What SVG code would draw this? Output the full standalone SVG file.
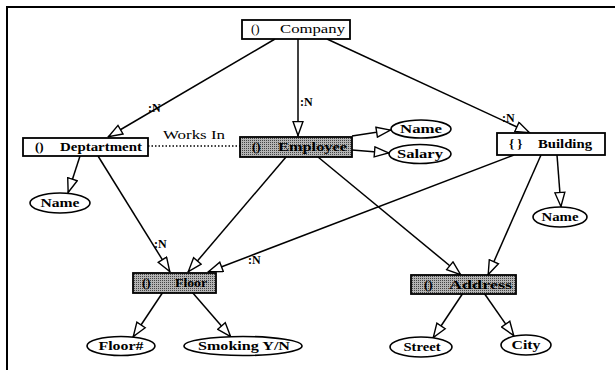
<svg xmlns="http://www.w3.org/2000/svg" width="615" height="370" viewBox="0 0 615 370">
<style>
.box{fill:#fff;stroke:#000;stroke-width:1.8}
.shade{fill:url(#dots);stroke:#000;stroke-width:1.8}
.ell{fill:#fff;stroke:#000;stroke-width:1.6}
.t{font-family:"Liberation Serif","Times New Roman",serif;font-size:13px;font-weight:bold;fill:#000}
.tn{font-family:"Liberation Serif","Times New Roman",serif;font-size:13px;fill:#000}
.tc{text-anchor:middle}
.ln{stroke:#000;stroke-width:1.5;fill:none;marker-end:url(#ah)}
.dot{stroke:#000;stroke-width:1.3;stroke-dasharray:1.5 2;fill:none}
.lab{font-family:"Liberation Serif","Times New Roman",serif;font-size:12px;font-weight:bold;fill:#000}
</style>
<defs>
<pattern id="dots" width="2" height="2" patternUnits="userSpaceOnUse">
<rect width="2" height="2" fill="#b4b4b4"/>
<rect width="1" height="1" fill="#444"/>
</pattern>
<marker id="ah" viewBox="0 0 16 12" refX="15.5" refY="6" markerWidth="16" markerHeight="12" markerUnits="userSpaceOnUse" orient="auto">
<path d="M1,1 L15,6 L1,11 z" fill="#fff" stroke="#000" stroke-width="1.4"/>
</marker>
</defs>
<path d="M7,370 V7 H615" fill="none" stroke="#000" stroke-width="2"/>
<g id="connectors">
<line class="ln" x1="275" y1="39" x2="108" y2="137"/>
<line class="ln" x1="298" y1="39" x2="298" y2="136"/>
<line class="ln" x1="327" y1="39" x2="530" y2="133"/>
<line class="dot" x1="148" y1="146" x2="240" y2="146"/>
<line class="ln" x1="352" y1="136" x2="391" y2="130"/>
<line class="ln" x1="352" y1="150" x2="389" y2="153"/>
<line class="ln" x1="80" y1="156" x2="68" y2="193"/>
<line class="ln" x1="557" y1="155" x2="561" y2="207"/>
<line class="ln" x1="98" y1="156" x2="170" y2="272"/>
<line class="ln" x1="286" y1="157" x2="188" y2="272"/>
<line class="ln" x1="514" y1="155" x2="208" y2="272"/>
<line class="ln" x1="318" y1="157" x2="461" y2="275"/>
<line class="ln" x1="541" y1="155" x2="488" y2="275"/>
<line class="ln" x1="163" y1="292" x2="133" y2="337"/>
<line class="ln" x1="192" y1="292" x2="231" y2="337"/>
<line class="ln" x1="463" y1="293" x2="433" y2="338"/>
<line class="ln" x1="484" y1="293" x2="514" y2="336"/>
<text class="lab" x="148" y="112">:N</text>
<text class="lab" x="300" y="106">:N</text>
<text class="lab" x="502" y="122">:N</text>
<text class="tn" x="163" y="139" textLength="62" lengthAdjust="spacingAndGlyphs">Works In</text>
<text class="lab" x="154" y="248">:N</text>
<text class="lab" x="248" y="264">:N</text>
</g>
<g id="company"><rect class="box" x="242" y="20" width="108" height="19"/><text class="tn" x="251" y="33">()</text><text class="tn" x="280" y="33" textLength="65" lengthAdjust="spacingAndGlyphs">Company</text></g>
<g id="department"><rect class="box" x="23" y="138" width="125" height="18"/><text class="t" x="35" y="151">()</text><text class="t" x="60" y="151" textLength="82" lengthAdjust="spacingAndGlyphs">Deptartment</text></g>
<g id="employee"><rect class="shade" x="240" y="137" width="112" height="20"/><text class="t" x="252" y="151">()</text><text class="t" x="278" y="151" textLength="69" lengthAdjust="spacingAndGlyphs">Employee</text></g>
<g id="building"><rect class="box" x="497" y="133" width="108" height="22"/><text class="t" x="509" y="148">{ }</text><text class="t" x="538" y="148" textLength="54" lengthAdjust="spacingAndGlyphs">Building</text></g>
<g id="floor"><rect class="shade" x="133" y="273" width="83" height="20"/><text class="t" x="142" y="287">()</text><text class="t" x="175" y="287" textLength="32" lengthAdjust="spacingAndGlyphs">Floor</text></g>
<g id="address"><rect class="shade" x="411" y="275" width="105" height="19"/><text class="t" x="424" y="289">()</text><text class="t" x="449" y="289" textLength="63" lengthAdjust="spacingAndGlyphs">Address</text></g>
<g id="emp-name"><ellipse class="ell" cx="421" cy="129" rx="30" ry="9"/><text class="t tc" x="421" y="133" textLength="42" lengthAdjust="spacingAndGlyphs">Name</text></g>
<g id="emp-salary"><ellipse class="ell" cx="420" cy="154" rx="31" ry="9.5"/><text class="t tc" x="420" y="158" textLength="46" lengthAdjust="spacingAndGlyphs">Salary</text></g>
<g id="dept-name"><ellipse class="ell" cx="60" cy="203" rx="30" ry="10"/><text class="t tc" x="60" y="207" textLength="39" lengthAdjust="spacingAndGlyphs">Name</text></g>
<g id="bldg-name"><ellipse class="ell" cx="560" cy="217" rx="27" ry="10"/><text class="t tc" x="560" y="221" textLength="37" lengthAdjust="spacingAndGlyphs">Name</text></g>
<g id="floor-num"><ellipse class="ell" cx="121" cy="346" rx="34" ry="9.5"/><text class="t tc" x="121" y="350" textLength="45" lengthAdjust="spacingAndGlyphs">Floor#</text></g>
<g id="smoking"><ellipse class="ell" cx="243" cy="346" rx="59" ry="9.5"/><text class="t tc" x="244" y="350" textLength="92" lengthAdjust="spacingAndGlyphs">Smoking Y/N</text></g>
<g id="street"><ellipse class="ell" cx="421" cy="347" rx="31" ry="10"/><text class="t tc" x="422" y="351" textLength="37" lengthAdjust="spacingAndGlyphs">Street</text></g>
<g id="city"><ellipse class="ell" cx="526" cy="345" rx="25" ry="10"/><text class="t tc" x="526" y="349" textLength="29" lengthAdjust="spacingAndGlyphs">City</text></g>
</svg>
